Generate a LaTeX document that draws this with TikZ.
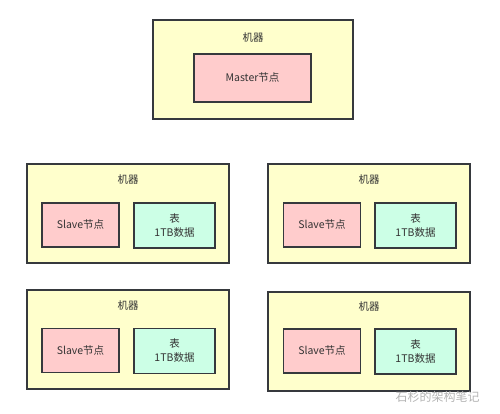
\documentclass[tikz,border=0pt]{standalone}
\usepackage{fontspec}
\newfontfamily\cjk{Noto Sans CJK SC}
\usepackage{tikz}
\definecolor{mcyellow}{HTML}{FFFFCC}
\definecolor{slpink}{HTML}{FFCCCC}
\definecolor{tbgreen}{HTML}{CCFFE6}
\definecolor{edgegrey}{HTML}{36393D}
\definecolor{txtgrey}{HTML}{333333}
\definecolor{wmgrey}{HTML}{B4B4B4}

\begin{document}
\begin{tikzpicture}[
    x=1pt, y=-1pt,
    font=\cjk\fontsize{10.5}{14}\selectfont, text=txtgrey,
    bx/.style={rectangle,draw=edgegrey,line width=1.2pt,inner sep=0pt},
    mc/.style={bx,fill=mcyellow,minimum width=202pt,minimum height=99pt},
    sl/.style={bx,fill=slpink,minimum width=77pt,minimum height=44pt},
    tb/.style={bx,fill=tbgreen,minimum width=81pt,minimum height=45pt,align=center},
    hdr/.style={inner sep=0pt},
    wm/.style={inner sep=0pt,font=\cjk\fontsize{12}{14}\selectfont,text=wmgrey}]
  \useasboundingbox (0,0) rectangle (500,414);

  % ---------------- master machine
  \node[mc,minimum width=200pt] (m0) at (253,69.5) {};
  \node[hdr] (h0) at (253,38) {机器};
  \node[bx,fill=slpink,minimum width=117pt,minimum height=48pt] (master) at (252.5,78) {Master节点};

  % ---------------- slave machines, upper row
  \node[mc] (m1) at (128,213.5) {};
  \node[hdr] (h1) at (128,180) {机器};
  \node[sl] (s1) at (80.5,225) {Slave节点};
  \node[tb] (t1) at (174.5,225.5) {表\\1TB数据};

  \node[mc] (m2) at (369,213.5) {};
  \node[hdr] (h2) at (369,180) {机器};
  \node[sl] (s2) at (322,225) {Slave节点};
  \node[tb] (t2) at (415.5,225.5) {表\\1TB数据};

  % ---------------- slave machines, lower row
  \node[mc] (m3) at (128,339.5) {};
  \node[hdr] (h3) at (128,305.5) {机器};
  \node[sl] (s3) at (80.5,350.5) {Slave节点};
  \node[tb] (t3) at (174.5,351) {表\\1TB数据};

  \node[mc] (m4) at (369,341.5) {};
  \node[hdr] (h4) at (369,307) {机器};
  \node[sl] (s4) at (322,351) {Slave节点};
  \node[tb] (t4) at (415.5,351.5) {表\\1TB数据};

  \node[wm] (mark) at (437.5,396.5) {石杉的架构笔记};
\end{tikzpicture}
\end{document}
